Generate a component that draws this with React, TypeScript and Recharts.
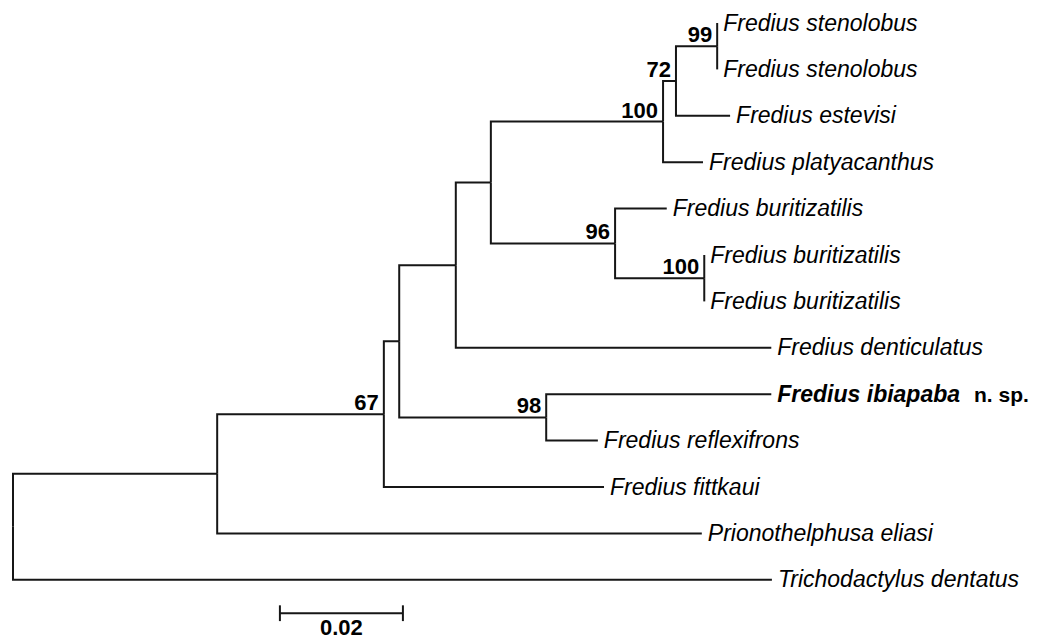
import React from 'react';
import { ScatterChart, Scatter, XAxis, YAxis } from 'recharts';

// ---- data (branch lengths in substitutions/site) ----
const tipNames = [
  'Fredius stenolobus',
  'Fredius stenolobus',
  'Fredius estevisi',
  'Fredius platyacanthus',
  'Fredius buritizatilis',
  'Fredius buritizatilis',
  'Fredius buritizatilis',
  'Fredius denticulatus',
  'Fredius ibiapaba',
  'Fredius reflexifrons',
  'Fredius fittkaui',
  'Prionothelphusa eliasi',
  'Trichodactylus dentatus',
];
const tipParents = ['n8', 'n8', 'n7', 'n6', 'n9', 'n10', 'n10', 'n4', 'n11', 'n11', 'n2', 'n1', 'n0'];
const tipLengths = [0, 0, 0.0088, 0.0065, 0.0084, 0, 0, 0.0513, 0.0366, 0.0084, 0.0358, 0.0788, 0.1234];
const tipNotes = ['', '', '', '', '', '', '', '', 'n. sp.', '', '', '', ''];

const nodeIds = ['n0', 'n1', 'n2', 'n3', 'n4', 'n5', 'n6', 'n7', 'n8', 'n9', 'n10', 'n11'];
const nodeParents = [null, 'n0', 'n1', 'n2', 'n3', 'n4', 'n5', 'n6', 'n7', 'n5', 'n9', 'n3'];
const nodeLengths = [0, 0.0332, 0.0271, 0.0025, 0.0092, 0.0057, 0.028, 0.0021, 0.0067, 0.0202, 0.0145, 0.0239];
const nodeSupport = ['', '', '67', '', '', '', '100', '72', '99', '96', '100', '98'];

const scaleBarLength = 0.02;
const scaleBarLabel = '0.02';
const scaleBarStart = 0.0434;
const scaleBarRow = 12.72;

// ---- layout computation ----
type Pos = { x: number; y: number };
const nodeX: Record<string, number> = {};
nodeIds.forEach((id, i) => {
  const p = nodeParents[i];
  nodeX[id] = (p ? nodeX[p] : 0) + nodeLengths[i];
});
const nodeY: Record<string, number> = {};
const resolveY = (id: string): number => {
  if (nodeY[id] !== undefined) return nodeY[id];
  const ys: number[] = [];
  tipParents.forEach((p, i) => { if (p === id) ys.push(i); });
  nodeIds.forEach((cid, i) => { if (nodeParents[i] === id) ys.push(resolveY(cid)); });
  const y = (Math.min(...ys) + Math.max(...ys)) / 2;
  nodeY[id] = y;
  return y;
};
nodeIds.forEach((id) => resolveY(id));

const edges: Pos[][] = [];
nodeIds.forEach((id, i) => {
  const p = nodeParents[i];
  if (!p) return;
  edges.push([
    { x: nodeX[p], y: nodeY[p] },
    { x: nodeX[p], y: nodeY[id] },
    { x: nodeX[id], y: nodeY[id] },
  ]);
});
const tips = tipNames.map((name, i) => {
  const p = tipParents[i];
  const x = nodeX[p] + tipLengths[i];
  edges.push([
    { x: nodeX[p], y: nodeY[p] },
    { x: nodeX[p], y: i },
    { x, y: i },
  ]);
  return { x, y: i, name, note: tipNotes[i] };
});
const supports = nodeIds
  .map((id, i) => ({ x: nodeX[id], y: nodeY[id], label: nodeSupport[i] }))
  .filter((d) => d.label !== '');

const tickH = 0.17;
const scaleBarLines: Pos[][] = [
  [{ x: scaleBarStart, y: scaleBarRow }, { x: scaleBarStart + scaleBarLength, y: scaleBarRow }],
  [{ x: scaleBarStart, y: scaleBarRow - tickH }, { x: scaleBarStart, y: scaleBarRow + tickH }],
  [{ x: scaleBarStart + scaleBarLength, y: scaleBarRow - tickH }, { x: scaleBarStart + scaleBarLength, y: scaleBarRow + tickH }],
];
const scaleLabel = [{ x: scaleBarStart + scaleBarLength / 2, y: scaleBarRow, label: scaleBarLabel }];

const FONT = '"Liberation Sans", Arial, Helvetica, sans-serif';
const INK = '#161616';
const none = () => <g />;

export default function App() {
  return (
    <div style={{ position: 'absolute', left: 0, top: 0, width: 1048, height: 638, background: '#fff' }}>
      <ScatterChart width={1048} height={638} margin={{ top: 23, right: 51, bottom: 11.8, left: 13 }} style={{ overflow: 'visible' }}>
        <XAxis type="number" dataKey="x" domain={[0, 0.16]} hide />
        <YAxis type="number" dataKey="y" domain={[0, 13]} reversed hide />
        {edges.map((e, i) => (
          <Scatter
            key={'e' + i}
            data={e}
            line={{ stroke: INK, strokeWidth: 2, fill: 'none' }}
            lineType="joint"
            shape={none}
            isAnimationActive={false}
          />
        ))}
        {scaleBarLines.map((e, i) => (
          <Scatter
            key={'s' + i}
            data={e}
            line={{ stroke: INK, strokeWidth: 2, fill: 'none' }}
            lineType="joint"
            shape={none}
            isAnimationActive={false}
          />
        ))}
        <Scatter
          data={tips}
          isAnimationActive={false}
          shape={(p: any) => {
            const d = p.payload;
            const bold = d.note !== '';
            return (
              <text
                x={p.cx + 6}
                y={p.cy + 7.5}
                fontFamily={FONT}
                fontSize={23}
                fill="#000"
              >
                <tspan fontStyle="italic" fontWeight={bold ? 'bold' : 'normal'}>{d.name}</tspan>
                {bold ? <tspan dx={14} fontWeight="bold" fontSize={21}>{d.note}</tspan> : null}
              </text>
            );
          }}
        />
        <Scatter
          data={supports}
          isAnimationActive={false}
          shape={(p: any) => (
            <text
              x={p.cx - 5}
              y={p.cy - 4}
              textAnchor="end"
              fontFamily={FONT}
              fontSize={22}
              fontWeight="bold"
              fill="#000"
            >
              {p.payload.label}
            </text>
          )}
        />
        <Scatter
          data={scaleLabel}
          isAnimationActive={false}
          shape={(p: any) => (
            <text
              x={p.cx}
              y={p.cy + 22}
              textAnchor="middle"
              fontFamily={FONT}
              fontSize={22}
              fontWeight="bold"
              fill="#000"
            >
              {p.payload.label}
            </text>
          )}
        />
      </ScatterChart>
    </div>
  );
}
